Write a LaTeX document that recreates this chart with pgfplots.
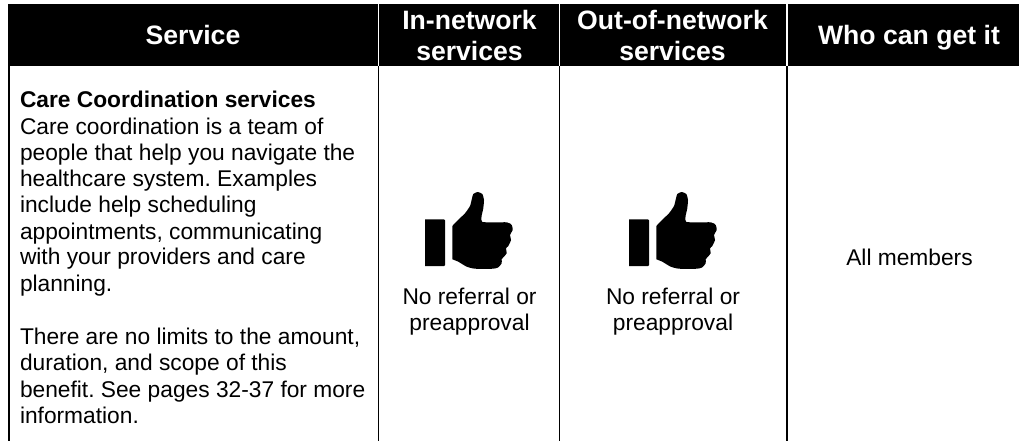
\documentclass[border=0pt]{standalone}
\usepackage{pgfplots}
\usepackage{pgfplotstable}
\usepackage{fontspec}
\setmainfont{Liberation Sans}
\pgfplotsset{compat=1.18}
\tikzset{
  txt/.style={anchor=base,inner sep=0pt,outer sep=0pt,black},
  tl/.style={anchor=base west,inner sep=0pt,outer sep=0pt,black},
  hd/.style={anchor=base,inner sep=0pt,outer sep=0pt,white}}
% thumb outline, in reference pixels relative to the thumb's box
\pgfplotstableread{
x y
52.3 56
58 50
65 43.3
70 36
72 28.3
73.3 24
77.7 22
82.3 24
84 30
83.3 38.3
82 51.7
106.7 52.3
111.7 55
112.7 60
110 65
111 70
108.3 76
106 78.3
106.7 83.3
103.3 87.3
101.7 89.3
101.7 93.3
98.3 97.3
93.3 98.7
75 98.7
66.7 96.7
58.3 91.7
52.3 89.3
}\thumb
\pgfplotstableread{
x y
25 49.3
44 49.3
45 50.3
45 95
44 96
25 96
}\palm
\newcommand{\bd}{\fontsize{26.6}{30}\selectfont\bfseries}
\newcommand{\nm}{\fontsize{22.75}{26}\selectfont}
\frenchspacing
\begin{document}
\begin{tikzpicture}
\path[use as bounding box] (0,0) rectangle (1019pt,441pt);
\begin{axis}[scale only axis,width=1019pt,height=441pt,xmin=0,xmax=1019,ymin=0,ymax=441,y dir=reverse,hide axis]
\addplot[fill=black,draw=none] coordinates {(8,4) (1019,4) (1019,66) (8,66)} -- cycle;
\addplot[white,line width=1.2pt] coordinates {(378.5,4) (378.5,66)};
\addplot[white,line width=1.2pt] coordinates {(559.5,4) (559.5,66)};
\addplot[white,line width=1.2pt] coordinates {(787,4) (787,66)};
\addplot[black,line width=2pt] coordinates {(9,66) (9,441)};
\addplot[black,line width=1.5pt] coordinates {(378.5,66) (378.5,441)};
\addplot[black,line width=1.5pt] coordinates {(559.5,66) (559.5,441)};
\addplot[black,line width=1.5pt] coordinates {(787,66) (787,441)};
\addplot[fill=black,draw=none,smooth,tension=0.35] table[x expr=\thisrow{x}+400,y expr=\thisrow{y}+170] {\thumb} -- cycle;
\addplot[fill=black,draw=none] table[x expr=\thisrow{x}+400,y expr=\thisrow{y}+170] {\palm} -- cycle;
\addplot[fill=black,draw=none,smooth,tension=0.35] table[x expr=\thisrow{x}+604,y expr=\thisrow{y}+170] {\thumb} -- cycle;
\addplot[fill=black,draw=none] table[x expr=\thisrow{x}+604,y expr=\thisrow{y}+170] {\palm} -- cycle;
\node[hd] at (axis cs:193,45) {\bd Service};
\node[hd] at (axis cs:469.5,30) {\bd In-network};
\node[hd] at (axis cs:469.5,60.5) {\bd services};
\node[hd] at (axis cs:672.5,29.5) {\bd Out-of-network};
\node[hd] at (axis cs:672.5,60.5) {\bd services};
\node[hd] at (axis cs:909,44.5) {\bd Who can get it};
\node[tl] at (axis cs:20,107) {\nm\bfseries Care Coordination services};
\node[tl] at (axis cs:20,134) {\nm Care coordination is a team of};
\node[tl] at (axis cs:20,160) {\nm people that help you navigate the};
\node[tl] at (axis cs:20,186) {\nm healthcare system. Examples};
\node[tl] at (axis cs:20,212.5) {\nm include help scheduling};
\node[tl] at (axis cs:20,239) {\nm appointments, communicating};
\node[tl] at (axis cs:20,264.5) {\nm with your providers and care};
\node[tl] at (axis cs:20,291) {\nm planning.};
\node[tl] at (axis cs:20,344) {\nm There are no limits to the amount,};
\node[tl] at (axis cs:20,370.5) {\nm duration, and scope of this};
\node[tl] at (axis cs:20,397) {\nm benefit. See pages 32-37 for more};
\node[tl] at (axis cs:20,423) {\nm information.};
\node[txt] at (axis cs:469.5,304.5) {\nm No referral or};
\node[txt] at (axis cs:469.5,330.5) {\nm preapproval};
\node[txt] at (axis cs:673,304.5) {\nm No referral or};
\node[txt] at (axis cs:673,330.5) {\nm preapproval};
\node[txt] at (axis cs:909.5,265) {\nm All members};
\end{axis}
\end{tikzpicture}
\end{document}
